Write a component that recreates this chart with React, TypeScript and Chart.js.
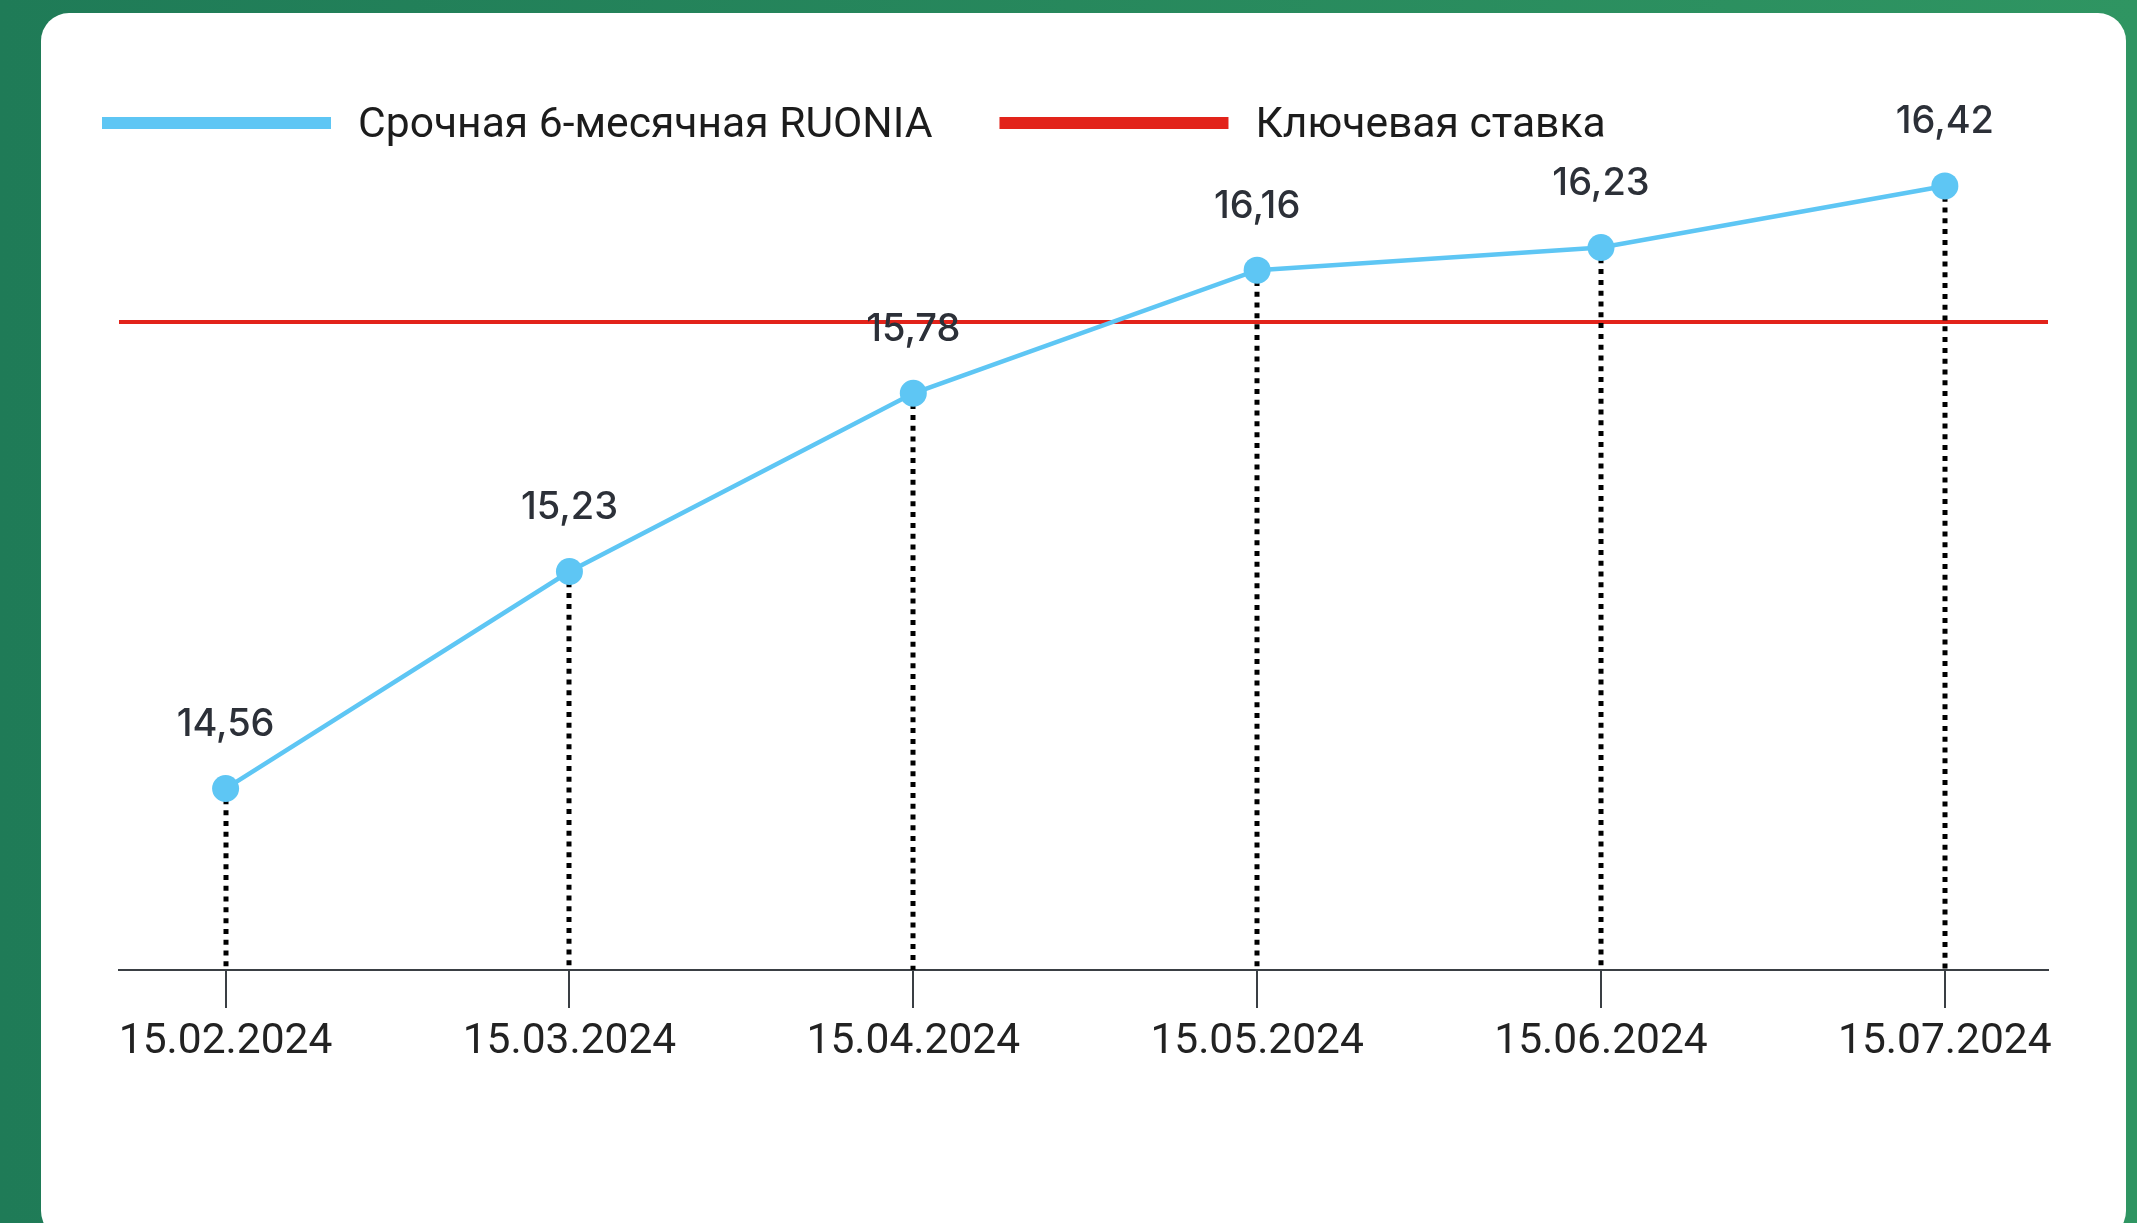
import React, { useEffect, useRef } from 'react';
import { Chart, registerables } from 'chart.js';

Chart.register(...registerables);

// ---- data ----
const DATES = ['15.02.2024', '15.03.2024', '15.04.2024', '15.05.2024', '15.06.2024', '15.07.2024'];
const RUONIA_6M = [14.56, 15.23, 15.78, 16.16, 16.23, 16.42];
const KEY_RATE = 16;
const SERIES_LABELS = ['Срочная 6-месячная RUONIA', 'Ключевая ставка'];

// ---- scale bounds ----
const Y_MIN = 14;
const Y_MAX = 16.5;
const X_MIN = -0.31;
const X_MAX = 5.3;

const BLUE = '#5ec6f4';
const RED = '#e2231a';
const AXIS = '#3a3f44';

const dropLines = {
  id: 'dropLines',
  beforeDatasetDraw(chart: any, args: any) {
    if (args.index !== 0) return;
    const meta = chart.getDatasetMeta(0);
    const bottom = chart.chartArea.bottom;
    const ctx = chart.ctx;
    ctx.save();
    ctx.strokeStyle = '#000';
    ctx.lineWidth = 5;
    ctx.setLineDash([5, 5.8]);
    meta.data.forEach((pt: any) => {
      const x = Math.round(pt.x);
      ctx.beginPath();
      ctx.moveTo(x, pt.y);
      ctx.lineTo(x, bottom);
      ctx.stroke();
    });
    ctx.restore();
  },
};

const valueLabels = {
  id: 'valueLabels',
  afterDatasetsDraw(chart: any) {
    const meta = chart.getDatasetMeta(0);
    const ctx = chart.ctx;
    ctx.save();
    ctx.font = '500 38px Inter';
    ctx.fillStyle = '#2c3038';
    ctx.textAlign = 'center';
    ctx.textBaseline = 'middle';
    meta.data.forEach((pt: any, i: number) => {
      const txt = RUONIA_6M[i].toFixed(2).replace('.', ',');
      ctx.fillText(txt, pt.x, pt.y - 64);
    });
    ctx.restore();
  },
};

const legendPlugin = {
  id: 'customLegend',
  afterDraw(chart: any) {
    const ctx = chart.ctx;
    ctx.save();
    ctx.font = '400 42.6px Roboto';
    ctx.textBaseline = 'middle';
    ctx.textAlign = 'left';
    let x = 102;
    const yc = 123;
    chart.data.datasets.forEach((ds: any) => {
      ctx.fillStyle = ds.borderColor;
      ctx.fillRect(x, yc - 6, 229, 12);
      ctx.fillStyle = '#1c1c1c';
      const tx = x + 229 + 27;
      ctx.fillText(ds.label, tx, yc + 3);
      x = tx + ctx.measureText(ds.label).width + 67;
    });
    ctx.restore();
  },
};

export default function App() {
  const ref = useRef<HTMLCanvasElement | null>(null);

  useEffect(() => {
    if (!ref.current) return;
    const chart = new Chart(ref.current, {
      type: 'line',
      data: {
        datasets: [
          {
            label: SERIES_LABELS[0],
            data: RUONIA_6M.map((v, i) => ({ x: i, y: v })),
            borderColor: BLUE,
            backgroundColor: BLUE,
            borderWidth: 4.5,
            pointRadius: 13.5,
            pointBackgroundColor: BLUE,
            pointBorderWidth: 0,
            tension: 0,
            clip: false,
          } as any,
          {
            label: SERIES_LABELS[1],
            data: [
              { x: X_MIN, y: KEY_RATE },
              { x: X_MAX, y: KEY_RATE },
            ],
            borderColor: RED,
            backgroundColor: RED,
            borderWidth: 4,
            pointRadius: 0,
            clip: false,
          } as any,
        ],
      },
      options: {
        animation: false,
        responsive: false,
        maintainAspectRatio: false,
        events: [],
        layout: { padding: { left: 119, right: 89, top: 160, bottom: 0 } },
        plugins: {
          legend: { display: false },
          tooltip: { enabled: false },
        },
        scales: {
          x: {
            type: 'linear',
            min: X_MIN,
            max: X_MAX,
            afterBuildTicks: (s: any) => {
              s.ticks = DATES.map((_, i) => ({ value: i }));
            },
            afterFit: (s: any) => {
              s.height = 253;
            },
            ticks: {
              callback: (_v: any, i: number) => DATES[i],
              font: { family: 'Roboto', size: 42.5 },
              color: '#222222',
              padding: 9,
              maxRotation: 0,
              autoSkip: false,
            },
            grid: {
              drawOnChartArea: false,
              drawTicks: true,
              tickLength: 38,
              color: AXIS,
              lineWidth: 2,
            },
            border: { display: true, color: AXIS, width: 2 },
          },
          y: { display: false, min: Y_MIN, max: Y_MAX },
        },
      } as any,
      plugins: [dropLines, valueLabels, legendPlugin],
    });
    return () => chart.destroy();
  }, []);

  return (
    <div
      style={{
        position: 'fixed',
        inset: 0,
        overflow: 'hidden',
        background: 'linear-gradient(90deg, #1f7b57 0%, #2f9562 100%)',
      }}
    >
      <div
        style={{
          position: 'absolute',
          left: 41,
          top: 13,
          width: 2085,
          height: 1226,
          background: '#ffffff',
          borderRadius: 28,
        }}
      />
      <canvas
        ref={ref}
        width={2137}
        height={1223}
        style={{ position: 'absolute', left: 0, top: 0, width: 2137, height: 1223, display: 'block' }}
      />
    </div>
  );
}
